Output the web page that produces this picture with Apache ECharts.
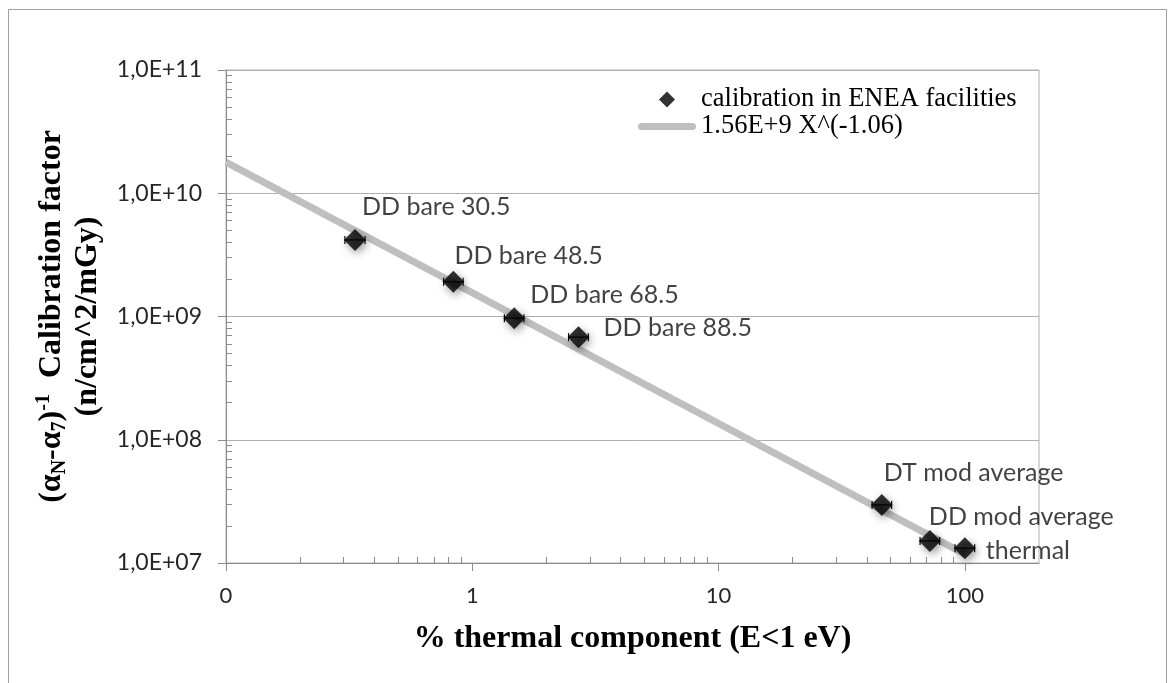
<!DOCTYPE html>
<html><head><meta charset="utf-8">
<script src="https://cdn.jsdelivr.net/npm/echarts@6/dist/echarts.min.js"></script>
<style>html,body{margin:0;padding:0;background:#fff}#c{width:1168px;height:683px}</style>
</head><body><div id="c"></div>
<script>
// ---- data ----
const pointNames = ['DD bare 30.5', 'DD bare 48.5', 'DD bare 68.5', 'DD bare 88.5', 'DT mod average', 'DD mod average', 'thermal'];
const thermalPct = [0.334, 0.838, 1.48, 2.70, 46.0, 72.1, 100];
const calibFactor = [4.18e9, 1.91e9, 9.7e8, 6.8e8, 2.96e7, 1.51e7, 1.32e7];
const thermalPctLow = [0.304, 0.765, 1.35, 2.46, 42.0, 65.8, 91.2];
const thermalPctHigh = [0.367, 0.918, 1.62, 2.96, 50.4, 79.0, 109.6];
const fitX = [0.1, 100];
const fitY = [1.79e10, 1.18e7];
const xTickValues = [0.1, 1, 10, 100];
const xMinorTickValues = [0.2, 0.3, 0.4, 0.5, 0.6, 0.7, 0.8, 0.9, 2, 3, 4, 5, 6, 7, 8, 9, 20, 30, 40, 50, 60, 70, 80, 90];
const yTickValues = [1e7, 1e8, 1e9, 1e10, 1e11];
const yMinorTickValues = [2e7, 3e7, 4e7, 5e7, 6e7, 7e7, 8e7, 9e7, 2e8, 3e8, 4e8, 5e8, 6e8, 7e8, 8e8, 9e8, 2e9, 3e9, 4e9, 5e9, 6e9, 7e9, 8e9, 9e9, 2e10, 3e10, 4e10, 5e10, 6e10, 7e10, 8e10, 9e10];
const scatterName = 'calibration in ENEA facilities';
const fitName = '1.56E+9 X^(-1.06)';

// ---- styling ----
const labelOffsets = [[7, -33], [1, -26], [16, -23], [25, -9], [2, -32], [-1, -24], [21, 3]];
const SYM = 22;
const AXIS_C = '#8c8c8c', GRID_C = '#b0b0b0';
const labelFont = 'Lato';
const TITLE_FS = 32;

const chart = echarts.init(document.getElementById('c'));
const scatterData = thermalPct.map((x, i) => ({
  value: [x, calibFactor[i]],
  name: pointNames[i],
  label: { position: [labelOffsets[i][0] + SYM / 2, labelOffsets[i][1] + SYM / 2] }
}));
const errData = thermalPct.map((x, i) => [thermalPctLow[i], thermalPctHigh[i], calibFactor[i]]);
const fitData = fitX.map((x, i) => [x, fitY[i]]);

const yFmt = v => { const e = Math.round(Math.log10(v)); return '1,0E+' + (e < 10 ? '0' + e : e); };
const xFmt = v => v < 1 ? '0' : String(Math.round(v));

const option = {
  animation: false,
  backgroundColor: '#fff',
  graphic: [{
    type: 'rect', silent: true, z: -10,
    shape: { x: 8.5, y: 9.5, width: 1158, height: 720 },
    style: { fill: 'none', stroke: '#a0a0a0', lineWidth: 1 }
  }],
  grid: { left: 226, right: 129, top: 70, bottom: 120, show: true, borderColor: GRID_C, borderWidth: 1, outerBoundsMode: 'none' },
  legend: {
    left: 638, top: 86, orient: 'vertical', padding: 0, itemWidth: 58, itemHeight: 16, itemGap: 0,
    selectedMode: false,
    textStyle: { fontFamily: 'Liberation Serif', fontSize: 26.5, lineHeight: 27, color: '#000' },
    data: [
      { name: scatterName, icon: 'path://M8,0 L16,8 L8,16 L0,8 Z' },
      { name: fitName, icon: 'path://M3.5,0 H54.5 A3.5,3.5 0 0 1 54.5,7 H3.5 A3.5,3.5 0 0 1 3.5,0 Z' }
    ]
  },
  xAxis: [{
    type: 'log', logBase: 10, min: 0.1, max: 200,
    name: '% thermal component (E<1 eV)', nameLocation: 'middle', nameGap: 60,
    nameTextStyle: { fontFamily: 'Liberation Serif', fontWeight: 'bold', fontSize: TITLE_FS, color: '#000' },
    axisLine: { show: true, lineStyle: { color: AXIS_C, width: 1 } },
    axisTick: { show: true, inside: false, length: 8, customValues: xTickValues, lineStyle: { color: AXIS_C } },
    axisLabel: { customValues: xTickValues, formatter: xFmt, margin: 22, fontFamily: labelFont, fontSize: 22, color: '#262626' },
    splitLine: { show: false }
  }, {
    type: 'log', logBase: 10, min: 0.1, max: 200, position: 'bottom',
    axisLine: { show: false },
    axisTick: { show: true, inside: true, length: 6, customValues: xMinorTickValues, lineStyle: { color: AXIS_C } },
    axisLabel: { show: false },
    splitLine: { show: false }
  }],
  yAxis: [{
    type: 'log', logBase: 10, min: 1e7, max: 1e11,
    name: '{t|(α}{sub|N}{t|-α}{sub|7}{t|)}{sup|-1}{t|  Calibration factor}\n{t|(n/cm^2/mGy)}',
    nameLocation: 'middle', nameGap: 115,
    nameTextStyle: {
      fontFamily: 'Liberation Serif', fontWeight: 'bold', fontSize: TITLE_FS, color: '#000', lineHeight: 36,
      rich: {
        t: { fontFamily: 'Liberation Serif', fontWeight: 'bold', fontSize: TITLE_FS, color: '#000', lineHeight: 36 },
        sub: { fontFamily: 'Liberation Serif', fontWeight: 'bold', fontSize: 20, color: '#000', lineHeight: 24, verticalAlign: 'bottom' },
        sup: { fontFamily: 'Liberation Serif', fontWeight: 'bold', fontSize: 20, color: '#000', lineHeight: 24, verticalAlign: 'top' }
      }
    },
    axisLine: { show: true, lineStyle: { color: AXIS_C, width: 1 } },
    axisTick: { show: true, inside: false, length: 8, customValues: yTickValues, lineStyle: { color: AXIS_C } },
    axisLabel: { customValues: yTickValues, formatter: yFmt, margin: 24, fontFamily: labelFont, fontSize: 23, color: '#262626' },
    splitLine: { show: true, lineStyle: { color: GRID_C, width: 1 } }
  }, {
    type: 'log', logBase: 10, min: 1e7, max: 1e11, position: 'left',
    axisLine: { show: false },
    axisTick: { show: true, inside: true, length: 6, customValues: yMinorTickValues, lineStyle: { color: AXIS_C } },
    axisLabel: { show: false },
    splitLine: { show: false }
  }],
  series: [{
    name: fitName, type: 'line', xAxisIndex: 0, yAxisIndex: 0, data: fitData,
    showSymbol: false, symbol: 'none', color: '#bfbfbf', z: 1,
    lineStyle: { color: '#bfbfbf', width: 7, cap: 'butt' },
    itemStyle: { color: '#bfbfbf' }
  }, {
    name: 'xerr', type: 'custom', xAxisIndex: 0, yAxisIndex: 0, data: errData, z: 2,
    encode: { x: [0, 1], y: 2 },
    renderItem: (params, api) => {
      const y = api.value(2);
      const p1 = api.coord([api.value(0), y]);
      const p2 = api.coord([api.value(1), y]);
      const h = 4, st = { stroke: '#000', lineWidth: 1.2 };
      return { type: 'group', children: [
        { type: 'line', shape: { x1: p1[0], y1: p1[1], x2: p2[0], y2: p2[1] }, style: st },
        { type: 'line', shape: { x1: p1[0], y1: p1[1] - h, x2: p1[0], y2: p1[1] + h }, style: st },
        { type: 'line', shape: { x1: p2[0], y1: p2[1] - h, x2: p2[0], y2: p2[1] + h }, style: st }
      ] };
    }
  }, {
    name: scatterName, type: 'scatter', xAxisIndex: 0, yAxisIndex: 0, data: scatterData,
    symbol: 'diamond', symbolSize: SYM, color: '#000', z: 3,
    itemStyle: { color: '#000', shadowBlur: 8, shadowColor: 'rgba(0,0,0,0.5)', shadowOffsetX: 2, shadowOffsetY: 3 },
    label: {
      show: true, formatter: p => p.name, align: 'left', verticalAlign: 'middle',
      fontFamily: labelFont, fontSize: 25, color: '#111'
    }
  }]
};
chart.setOption(option);
</script></body></html>
